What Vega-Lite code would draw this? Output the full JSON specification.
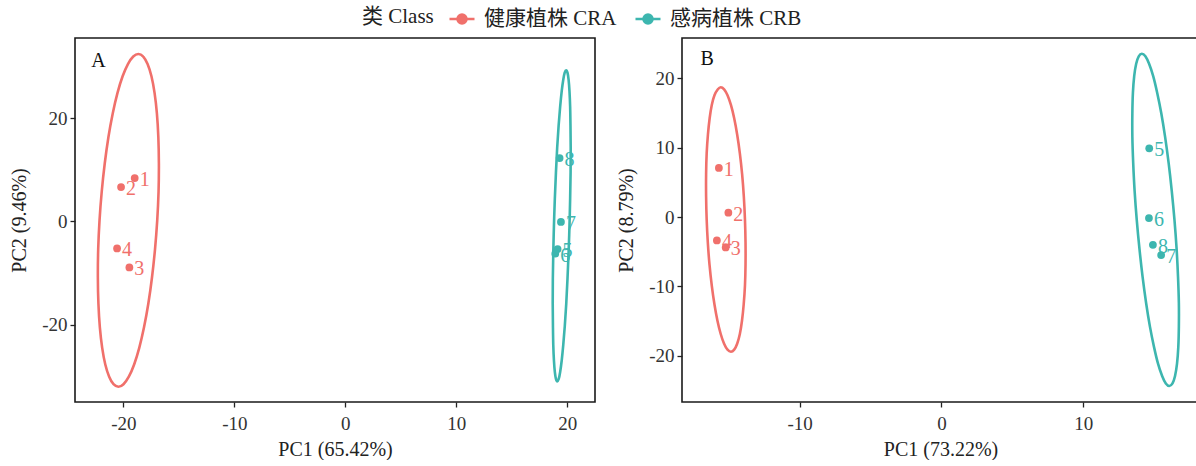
{
"$schema": "https://vega.github.io/schema/vega-lite/v6.json",
"background": "white",
"autosize": {"type": "pad"},
"padding": {"left": 8, "top": 5, "right": 0, "bottom": 0},
"spacing": 19,
"config": {
  "font": "Liberation Serif",
  "view": {"stroke": "#1a1a1a", "strokeWidth": 1.6},
  "axis": {"labelFont": "Liberation Serif", "labelFontSize": 19, "labelColor": "#333333", "titleFont": "Liberation Serif", "titleFontSize": 20, "titleFontWeight": "normal", "titleColor": "#222222", "domain": false, "grid": false, "tickColor": "#222222", "tickSize": 5, "tickWidth": 1.3},
  "axisX": {"labelPadding": 7, "titlePadding": 6},
  "axisY": {"labelPadding": 3, "titlePadding": 12}
},
"datasets": {
  "pts": [
    {"p": "A", "c": "CRA", "lab": "1", "x": -18.98, "y": 8.39},
    {"p": "A", "c": "CRA", "lab": "2", "x": -20.21, "y": 6.65},
    {"p": "A", "c": "CRA", "lab": "3", "x": -19.46, "y": -8.9},
    {"p": "A", "c": "CRA", "lab": "4", "x": -20.57, "y": -5.22},
    {"p": "A", "c": "CRB", "lab": "5", "x": 19.13, "y": -5.34},
    {"p": "A", "c": "CRB", "lab": "6", "x": 18.92, "y": -6.25},
    {"p": "A", "c": "CRB", "lab": "7", "x": 19.43, "y": -0.1},
    {"p": "A", "c": "CRB", "lab": "8", "x": 19.31, "y": 12.26},
    {"p": "B", "c": "CRA", "lab": "1", "x": -15.7, "y": 7.07},
    {"p": "B", "c": "CRA", "lab": "2", "x": -15.03, "y": 0.62},
    {"p": "B", "c": "CRA", "lab": "3", "x": -15.22, "y": -4.38},
    {"p": "B", "c": "CRA", "lab": "4", "x": -15.84, "y": -3.37},
    {"p": "B", "c": "CRB", "lab": "5", "x": 14.65, "y": 9.91},
    {"p": "B", "c": "CRB", "lab": "6", "x": 14.63, "y": -0.14},
    {"p": "B", "c": "CRB", "lab": "7", "x": 15.49, "y": -5.48},
    {"p": "B", "c": "CRB", "lab": "8", "x": 14.91, "y": -4.0}
  ],
  "letters": [
    {"p": "A", "t": "A", "x": -22.9, "y": 31.1},
    {"p": "B", "t": "B", "x": -17.0, "y": 22.8}
  ],
  "ell": [
    {"p":"A","c":"CRA","o":0,"x":-18.65,"y":32.4},{"p":"A","c":"CRA","o":1,"x":-18.21,"y":31.91},{"p":"A","c":"CRA","o":2,"x":-17.82,"y":30.46},{"p":"A","c":"CRA","o":3,"x":-17.47,"y":28.09},{"p":"A","c":"CRA","o":4,"x":-17.19,"y":24.87},{"p":"A","c":"CRA","o":5,"x":-16.98,"y":20.9},{"p":"A","c":"CRA","o":6,"x":-16.85,"y":16.3},{"p":"A","c":"CRA","o":7,"x":-16.8,"y":11.21},{"p":"A","c":"CRA","o":8,"x":-16.83,"y":5.79},{"p":"A","c":"CRA","o":9,"x":-16.95,"y":0.2},{"p":"A","c":"CRA","o":10,"x":-17.15,"y":-5.39},{"p":"A","c":"CRA","o":11,"x":-17.42,"y":-10.81},{"p":"A","c":"CRA","o":12,"x":-17.75,"y":-15.9},{"p":"A","c":"CRA","o":13,"x":-18.14,"y":-20.5},{"p":"A","c":"CRA","o":14,"x":-18.57,"y":-24.47},{"p":"A","c":"CRA","o":15,"x":-19.03,"y":-27.69},{"p":"A","c":"CRA","o":16,"x":-19.51,"y":-30.06},{"p":"A","c":"CRA","o":17,"x":-19.99,"y":-31.51},{"p":"A","c":"CRA","o":18,"x":-20.45,"y":-32.0},{"p":"A","c":"CRA","o":19,"x":-20.89,"y":-31.51},{"p":"A","c":"CRA","o":20,"x":-21.28,"y":-30.06},{"p":"A","c":"CRA","o":21,"x":-21.63,"y":-27.69},{"p":"A","c":"CRA","o":22,"x":-21.91,"y":-24.47},{"p":"A","c":"CRA","o":23,"x":-22.12,"y":-20.5},{"p":"A","c":"CRA","o":24,"x":-22.25,"y":-15.9},{"p":"A","c":"CRA","o":25,"x":-22.3,"y":-10.81},{"p":"A","c":"CRA","o":26,"x":-22.27,"y":-5.39},{"p":"A","c":"CRA","o":27,"x":-22.15,"y":0.2},{"p":"A","c":"CRA","o":28,"x":-21.95,"y":5.79},{"p":"A","c":"CRA","o":29,"x":-21.68,"y":11.21},{"p":"A","c":"CRA","o":30,"x":-21.35,"y":16.3},{"p":"A","c":"CRA","o":31,"x":-20.96,"y":20.9},{"p":"A","c":"CRA","o":32,"x":-20.53,"y":24.87},{"p":"A","c":"CRA","o":33,"x":-20.07,"y":28.09},{"p":"A","c":"CRA","o":34,"x":-19.59,"y":30.46},{"p":"A","c":"CRA","o":35,"x":-19.11,"y":31.91},
    {"p":"A","c":"CRB","o":0,"x":19.9,"y":29.25},{"p":"A","c":"CRB","o":1,"x":20.02,"y":28.79},{"p":"A","c":"CRB","o":2,"x":20.12,"y":27.43},{"p":"A","c":"CRB","o":3,"x":20.2,"y":25.22},{"p":"A","c":"CRB","o":4,"x":20.26,"y":22.21},{"p":"A","c":"CRB","o":5,"x":20.29,"y":18.5},{"p":"A","c":"CRB","o":6,"x":20.31,"y":14.2},{"p":"A","c":"CRB","o":7,"x":20.3,"y":9.44},{"p":"A","c":"CRB","o":8,"x":20.26,"y":4.38},{"p":"A","c":"CRB","o":9,"x":20.2,"y":-0.85},{"p":"A","c":"CRB","o":10,"x":20.12,"y":-6.08},{"p":"A","c":"CRB","o":11,"x":20.02,"y":-11.14},{"p":"A","c":"CRB","o":12,"x":19.91,"y":-15.9},{"p":"A","c":"CRB","o":13,"x":19.78,"y":-20.2},{"p":"A","c":"CRB","o":14,"x":19.64,"y":-23.91},{"p":"A","c":"CRB","o":15,"x":19.5,"y":-26.92},{"p":"A","c":"CRB","o":16,"x":19.36,"y":-29.13},{"p":"A","c":"CRB","o":17,"x":19.23,"y":-30.49},{"p":"A","c":"CRB","o":18,"x":19.1,"y":-30.95},{"p":"A","c":"CRB","o":19,"x":18.98,"y":-30.49},{"p":"A","c":"CRB","o":20,"x":18.88,"y":-29.13},{"p":"A","c":"CRB","o":21,"x":18.8,"y":-26.92},{"p":"A","c":"CRB","o":22,"x":18.74,"y":-23.91},{"p":"A","c":"CRB","o":23,"x":18.71,"y":-20.2},{"p":"A","c":"CRB","o":24,"x":18.69,"y":-15.9},{"p":"A","c":"CRB","o":25,"x":18.7,"y":-11.14},{"p":"A","c":"CRB","o":26,"x":18.74,"y":-6.08},{"p":"A","c":"CRB","o":27,"x":18.8,"y":-0.85},{"p":"A","c":"CRB","o":28,"x":18.88,"y":4.38},{"p":"A","c":"CRB","o":29,"x":18.98,"y":9.44},{"p":"A","c":"CRB","o":30,"x":19.09,"y":14.2},{"p":"A","c":"CRB","o":31,"x":19.22,"y":18.5},{"p":"A","c":"CRB","o":32,"x":19.36,"y":22.21},{"p":"A","c":"CRB","o":33,"x":19.5,"y":25.22},{"p":"A","c":"CRB","o":34,"x":19.64,"y":27.43},{"p":"A","c":"CRB","o":35,"x":19.77,"y":28.79},
    {"p":"B","c":"CRA","o":0,"x":-15.57,"y":18.7},{"p":"B","c":"CRA","o":1,"x":-15.33,"y":18.41},{"p":"B","c":"CRA","o":2,"x":-15.09,"y":17.55},{"p":"B","c":"CRA","o":3,"x":-14.85,"y":16.15},{"p":"B","c":"CRA","o":4,"x":-14.62,"y":14.24},{"p":"B","c":"CRA","o":5,"x":-14.41,"y":11.9},{"p":"B","c":"CRA","o":6,"x":-14.22,"y":9.18},{"p":"B","c":"CRA","o":7,"x":-14.06,"y":6.17},{"p":"B","c":"CRA","o":8,"x":-13.94,"y":2.96},{"p":"B","c":"CRA","o":9,"x":-13.86,"y":-0.35},{"p":"B","c":"CRA","o":10,"x":-13.82,"y":-3.66},{"p":"B","c":"CRA","o":11,"x":-13.82,"y":-6.87},{"p":"B","c":"CRA","o":12,"x":-13.86,"y":-9.88},{"p":"B","c":"CRA","o":13,"x":-13.95,"y":-12.6},{"p":"B","c":"CRA","o":14,"x":-14.07,"y":-14.94},{"p":"B","c":"CRA","o":15,"x":-14.22,"y":-16.85},{"p":"B","c":"CRA","o":16,"x":-14.41,"y":-18.25},{"p":"B","c":"CRA","o":17,"x":-14.62,"y":-19.11},{"p":"B","c":"CRA","o":18,"x":-14.85,"y":-19.4},{"p":"B","c":"CRA","o":19,"x":-15.09,"y":-19.11},{"p":"B","c":"CRA","o":20,"x":-15.33,"y":-18.25},{"p":"B","c":"CRA","o":21,"x":-15.57,"y":-16.85},{"p":"B","c":"CRA","o":22,"x":-15.8,"y":-14.94},{"p":"B","c":"CRA","o":23,"x":-16.01,"y":-12.6},{"p":"B","c":"CRA","o":24,"x":-16.2,"y":-9.88},{"p":"B","c":"CRA","o":25,"x":-16.36,"y":-6.87},{"p":"B","c":"CRA","o":26,"x":-16.48,"y":-3.66},{"p":"B","c":"CRA","o":27,"x":-16.56,"y":-0.35},{"p":"B","c":"CRA","o":28,"x":-16.6,"y":2.96},{"p":"B","c":"CRA","o":29,"x":-16.6,"y":6.17},{"p":"B","c":"CRA","o":30,"x":-16.56,"y":9.18},{"p":"B","c":"CRA","o":31,"x":-16.47,"y":11.9},{"p":"B","c":"CRA","o":32,"x":-16.35,"y":14.24},{"p":"B","c":"CRA","o":33,"x":-16.2,"y":16.15},{"p":"B","c":"CRA","o":34,"x":-16.01,"y":17.55},{"p":"B","c":"CRA","o":35,"x":-15.77,"y":18.41},
    {"p":"B","c":"CRB","o":0,"x":14.13,"y":23.52},{"p":"B","c":"CRB","o":1,"x":14.38,"y":23.16},{"p":"B","c":"CRB","o":2,"x":14.64,"y":22.08},{"p":"B","c":"CRB","o":3,"x":14.93,"y":20.31},{"p":"B","c":"CRB","o":4,"x":15.21,"y":17.92},{"p":"B","c":"CRB","o":5,"x":15.5,"y":14.97},{"p":"B","c":"CRB","o":6,"x":15.77,"y":11.56},{"p":"B","c":"CRB","o":7,"x":16.02,"y":7.77},{"p":"B","c":"CRB","o":8,"x":16.24,"y":3.74},{"p":"B","c":"CRB","o":9,"x":16.43,"y":-0.41},{"p":"B","c":"CRB","o":10,"x":16.58,"y":-4.56},{"p":"B","c":"CRB","o":11,"x":16.68,"y":-8.59},{"p":"B","c":"CRB","o":12,"x":16.74,"y":-12.38},{"p":"B","c":"CRB","o":13,"x":16.74,"y":-15.79},{"p":"B","c":"CRB","o":14,"x":16.7,"y":-18.74},{"p":"B","c":"CRB","o":15,"x":16.61,"y":-21.13},{"p":"B","c":"CRB","o":16,"x":16.47,"y":-22.9},{"p":"B","c":"CRB","o":17,"x":16.29,"y":-23.98},{"p":"B","c":"CRB","o":18,"x":16.07,"y":-24.34},{"p":"B","c":"CRB","o":19,"x":15.82,"y":-23.98},{"p":"B","c":"CRB","o":20,"x":15.56,"y":-22.9},{"p":"B","c":"CRB","o":21,"x":15.27,"y":-21.13},{"p":"B","c":"CRB","o":22,"x":14.99,"y":-18.74},{"p":"B","c":"CRB","o":23,"x":14.7,"y":-15.79},{"p":"B","c":"CRB","o":24,"x":14.43,"y":-12.38},{"p":"B","c":"CRB","o":25,"x":14.18,"y":-8.59},{"p":"B","c":"CRB","o":26,"x":13.96,"y":-4.56},{"p":"B","c":"CRB","o":27,"x":13.77,"y":-0.41},{"p":"B","c":"CRB","o":28,"x":13.62,"y":3.74},{"p":"B","c":"CRB","o":29,"x":13.52,"y":7.77},{"p":"B","c":"CRB","o":30,"x":13.46,"y":11.56},{"p":"B","c":"CRB","o":31,"x":13.46,"y":14.97},{"p":"B","c":"CRB","o":32,"x":13.5,"y":17.92},{"p":"B","c":"CRB","o":33,"x":13.59,"y":20.31},{"p":"B","c":"CRB","o":34,"x":13.73,"y":22.08},{"p":"B","c":"CRB","o":35,"x":13.91,"y":23.16}
  ]
},
"hconcat": [
  {
    "width": 520, "height": 364,
    "layer": [
      {"mark": {"type": "rule", "color": "#b5b5b5", "strokeWidth": 1.3}, "encoding": {"x": {"datum": 0, "type": "quantitative"}}},
      {"mark": {"type": "rule", "color": "#b5b5b5", "strokeWidth": 1.3}, "encoding": {"y": {"datum": 0, "type": "quantitative"}}},
      {"data": {"name": "ell"}, "transform": [{"filter": "datum.p == 'A'"}],
       "mark": {"type": "line", "interpolate": "cardinal-closed", "strokeWidth": 2.6},
       "encoding": {
         "x": {"field": "x", "type": "quantitative", "scale": {"domain": [-24.36, 22.5], "nice": false, "zero": false}, "axis": {"values": [-20, -10, 0, 10, 20], "labelExpr": "datum.value + ''", "title": "PC1 (65.42%)"}},
         "y": {"field": "y", "type": "quantitative", "scale": {"domain": [-34.95, 35.5], "nice": false, "zero": false}, "axis": {"values": [-20, 0, 20], "labelExpr": "datum.value + ''", "title": "PC2 (9.46%)"}},
         "color": {"field": "c", "type": "nominal", "scale": {"domain": ["CRA", "CRB"], "range": ["#F0706B", "#3DB6AF"]}, "legend": {"orient": "none", "legendX": 287, "legendY": -33, "direction": "horizontal", "title": "类 Class", "titleOrient": "left", "titleFont": "Liberation Serif, Noto Sans CJK SC", "titleFontSize": 21, "titleFontWeight": "normal", "titleColor": "#222222", "titleBaseline": "middle", "labelFont": "Liberation Serif, Noto Sans CJK SC", "labelFontSize": 21, "labelColor": "#222222", "labelExpr": "datum.label == 'CRA' ? '健康植株 CRA' : '感病植株 CRB'", "symbolType": "M-1,0L1,0M-0.36,0A0.36,0.36 0 1,0 0.36,0A0.36,0.36 0 1,0 -0.36,0Z", "symbolSize": 625, "symbolStrokeWidth": 2.6, "labelOffset": 8, "columnPadding": 13, "titlePadding": 14, "encode": {"symbols": {"update": {"fill": {"scale": "color", "field": "value"}, "stroke": {"scale": "color", "field": "value"}, "fillOpacity": {"value": 1}, "strokeOpacity": {"value": 1}, "opacity": {"value": 1}}}}}},
         "order": {"field": "o", "type": "quantitative"}
       }},
      {"data": {"name": "pts"}, "transform": [{"filter": "datum.p == 'A'"}],
       "mark": {"type": "circle", "size": 60, "opacity": 1},
       "encoding": {
         "x": {"field": "x", "type": "quantitative"},
         "y": {"field": "y", "type": "quantitative"},
         "color": {"field": "c", "type": "nominal"}
       }},
      {"data": {"name": "pts"}, "transform": [{"filter": "datum.p == 'A'"}],
       "mark": {"type": "text", "align": "left", "baseline": "middle", "dx": 5, "dy": 2, "fontSize": 20, "font": "Liberation Serif"},
       "encoding": {
         "x": {"field": "x", "type": "quantitative"},
         "y": {"field": "y", "type": "quantitative"},
         "text": {"field": "lab"},
         "color": {"field": "c", "type": "nominal"}
       }},
      {"data": {"name": "letters"}, "transform": [{"filter": "datum.p == 'A'"}],
       "mark": {"type": "text", "align": "left", "baseline": "middle", "fontSize": 20, "font": "Liberation Serif", "color": "#111111"},
       "encoding": {
         "x": {"field": "x", "type": "quantitative"},
         "y": {"field": "y", "type": "quantitative"},
         "text": {"field": "t"}
       }}
    ]
  },
  {
    "width": 517, "height": 364,
    "layer": [
      {"mark": {"type": "rule", "color": "#b5b5b5", "strokeWidth": 1.3}, "encoding": {"x": {"datum": 0, "type": "quantitative"}}},
      {"mark": {"type": "rule", "color": "#b5b5b5", "strokeWidth": 1.3}, "encoding": {"y": {"datum": 0, "type": "quantitative"}}},
      {"data": {"name": "ell"}, "transform": [{"filter": "datum.p == 'B'"}],
       "mark": {"type": "line", "interpolate": "cardinal-closed", "strokeWidth": 2.6},
       "encoding": {
         "x": {"field": "x", "type": "quantitative", "scale": {"domain": [-18.3, 18.16], "nice": false, "zero": false}, "axis": {"values": [-10, 0, 10], "labelExpr": "datum.value + ''", "title": "PC1 (73.22%)"}},
         "y": {"field": "y", "type": "quantitative", "scale": {"domain": [-26.65, 25.8], "nice": false, "zero": false}, "axis": {"values": [-20, -10, 0, 10, 20], "labelExpr": "datum.value + ''", "title": "PC2 (8.79%)"}},
         "color": {"field": "c", "type": "nominal"},
         "order": {"field": "o", "type": "quantitative"}
       }},
      {"data": {"name": "pts"}, "transform": [{"filter": "datum.p == 'B'"}],
       "mark": {"type": "circle", "size": 60, "opacity": 1},
       "encoding": {
         "x": {"field": "x", "type": "quantitative"},
         "y": {"field": "y", "type": "quantitative"},
         "color": {"field": "c", "type": "nominal"}
       }},
      {"data": {"name": "pts"}, "transform": [{"filter": "datum.p == 'B'"}],
       "mark": {"type": "text", "align": "left", "baseline": "middle", "dx": 5, "dy": 2, "fontSize": 20, "font": "Liberation Serif"},
       "encoding": {
         "x": {"field": "x", "type": "quantitative"},
         "y": {"field": "y", "type": "quantitative"},
         "text": {"field": "lab"},
         "color": {"field": "c", "type": "nominal"}
       }},
      {"data": {"name": "letters"}, "transform": [{"filter": "datum.p == 'B'"}],
       "mark": {"type": "text", "align": "left", "baseline": "middle", "fontSize": 20, "font": "Liberation Serif", "color": "#111111"},
       "encoding": {
         "x": {"field": "x", "type": "quantitative"},
         "y": {"field": "y", "type": "quantitative"},
         "text": {"field": "t"}
       }}
    ]
  }
]
}
